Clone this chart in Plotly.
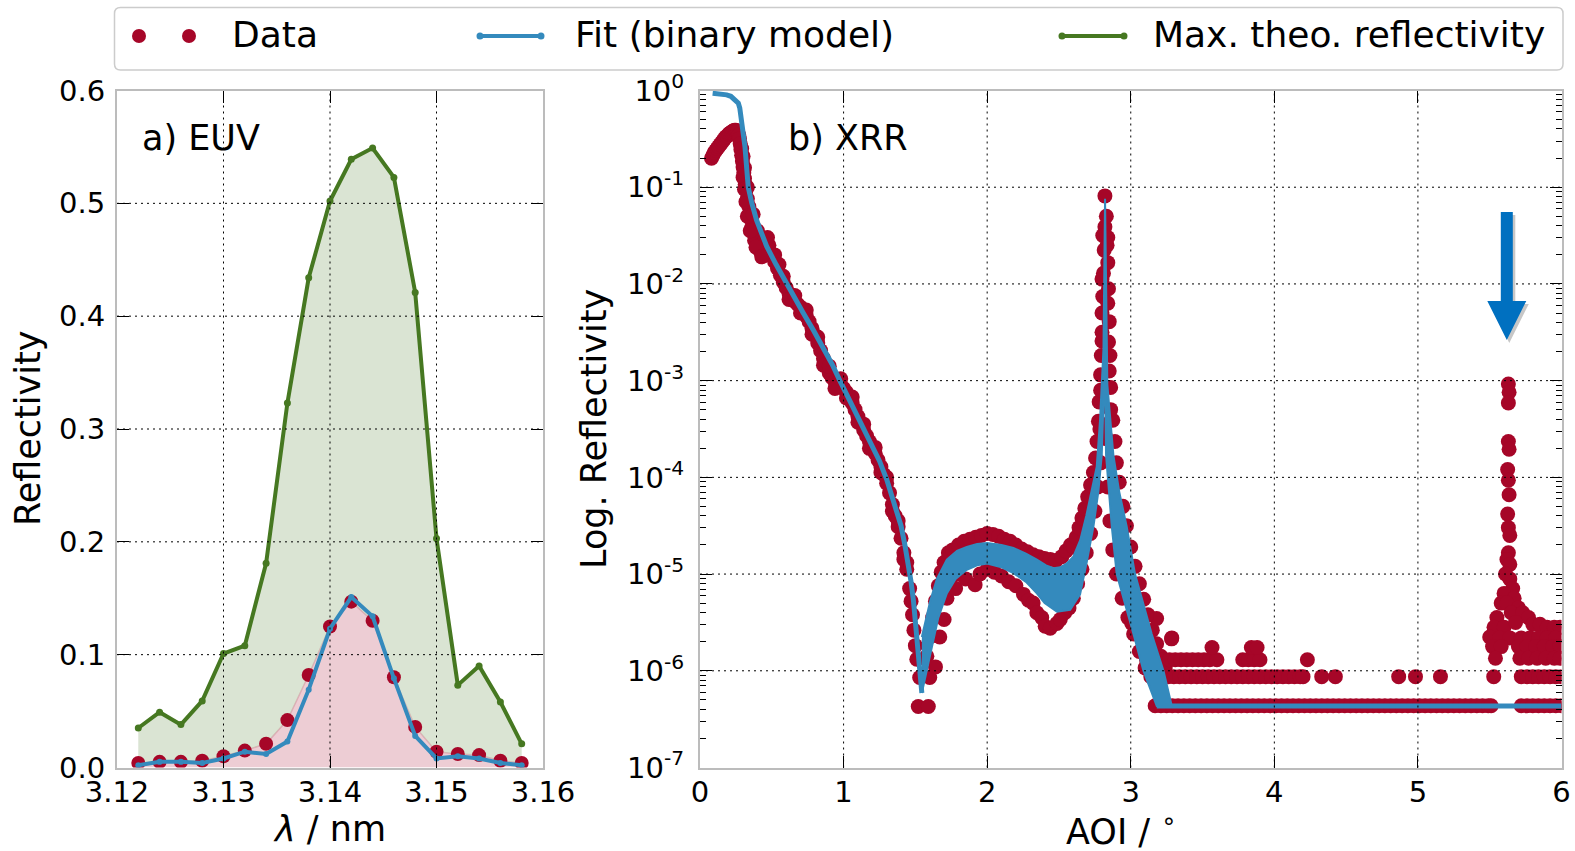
import plotly.graph_objects as go

W, H = 1575, 851
RED, BLUE, GREEN, ARROW = "#A60628", "#348ABD", "#467821", "#0070C0"
FONT = "DejaVu Sans"

# ---------------- panel a) EUV ----------------
wavelength_nm = [3.122, 3.124, 3.126, 3.128, 3.130, 3.132, 3.134, 3.136, 3.138, 3.140,
                 3.142, 3.144, 3.146, 3.148, 3.150, 3.152, 3.154, 3.156, 3.158]
euv_max_theo = [0.035, 0.049, 0.038, 0.059, 0.101, 0.108, 0.181, 0.323, 0.434, 0.502,
                0.539, 0.549, 0.523, 0.421, 0.203, 0.073, 0.090, 0.058, 0.021]
euv_data = [0.004, 0.005, 0.005, 0.006, 0.010, 0.015, 0.021, 0.042, 0.082, 0.125,
            0.147, 0.130, 0.080, 0.036, 0.014, 0.012, 0.011, 0.006, 0.004]
euv_fit = [0.002, 0.005, 0.005, 0.004, 0.008, 0.014, 0.012, 0.023, 0.069, 0.123,
           0.151, 0.134, 0.079, 0.028, 0.008, 0.010, 0.008, 0.004, 0.002]
euv_xticks = [3.12, 3.13, 3.14, 3.15, 3.16]
euv_yticks = [0.0, 0.1, 0.2, 0.3, 0.4, 0.5, 0.6]

# ---------------- panel b) XRR (values read as decade exponents of the log axis) ----------------
xrr_desc_x = [0.08, 0.09, 0.10, 0.11, 0.12, 0.13, 0.14, 0.15, 0.16, 0.17, 0.18, 0.19, 0.20, 0.21,
              0.22, 0.23, 0.24, 0.25, 0.26, 0.27, 0.275, 0.28, 0.285, 0.29, 0.295, 0.30, 0.305,
              0.31, 0.315, 0.32, 0.33, 0.34, 0.35, 0.36, 0.37, 0.38, 0.39, 0.40, 0.42, 0.44, 0.46,
              0.48, 0.50, 0.52, 0.54, 0.56, 0.58, 0.60, 0.62, 0.64, 0.66, 0.68, 0.70, 0.72, 0.74,
              0.76, 0.78, 0.80, 0.82, 0.84, 0.86, 0.88, 0.90, 0.92, 0.94, 0.96, 0.98, 1.00, 1.02,
              1.04, 1.06, 1.08, 1.10, 1.12, 1.14, 1.16, 1.18, 1.20, 1.22, 1.24, 1.26, 1.28, 1.30,
              1.32, 1.34, 1.36, 1.38, 1.40, 1.42, 1.44, 1.46, 1.47, 1.48, 1.49, 1.50, 1.51]
xrr_desc_exp = [-0.70, -0.67, -0.64, -0.62, -0.60, -0.58, -0.56, -0.54, -0.52, -0.50, -0.48, -0.47,
                -0.45, -0.44, -0.43, -0.42, -0.41, -0.41, -0.42, -0.46, -0.50, -0.55, -0.61, -0.67,
                -0.73, -0.79, -0.85, -0.91, -0.97, -1.03, -1.12, -1.20, -1.27, -1.34, -1.40, -1.45,
                -1.50, -1.54, -1.59, -1.62, -1.64, -1.67, -1.71, -1.77, -1.84, -1.91, -1.98, -2.04,
                -2.10, -2.14, -2.18, -2.21, -2.24, -2.28, -2.33, -2.39, -2.46, -2.53, -2.61, -2.69,
                -2.77, -2.85, -2.92, -2.97, -3.01, -3.03, -3.05, -3.08, -3.12, -3.17, -3.23, -3.30,
                -3.37, -3.44, -3.51, -3.57, -3.63, -3.69, -3.75, -3.82, -3.89, -3.97, -4.06, -4.16,
                -4.28, -4.40, -4.51, -4.63, -4.78, -4.95, -5.15, -5.28, -5.42, -5.58, -5.74, -5.88]
# scattered points on either side of the descending fringes
xrr_spread_x = [0.29, 0.30, 0.31, 0.32, 0.33, 0.34, 0.36, 0.38, 0.40, 0.42, 0.45, 0.48, 0.52, 0.55,
                0.58, 0.62, 0.66, 0.70, 0.74, 0.78, 0.82, 0.86, 0.90, 0.94, 0.98, 1.02, 1.06, 1.10,
                1.14, 1.18, 1.22, 1.26, 1.30, 1.34, 1.38, 1.42, 1.44,
                0.30, 0.31, 0.33, 0.35, 0.37, 0.39, 0.43, 0.47]
xrr_spread_exp = [-0.60, -0.90, -0.80, -1.15, -1.00, -1.30, -1.42, -1.55, -1.45, -1.66, -1.55, -1.60,
                  -1.70, -1.80, -1.92, -2.16, -2.12, -2.30, -2.27, -2.52, -2.55, -2.84, -2.85, -3.08,
                  -2.98, -3.18, -3.17, -3.43, -3.45, -3.70, -3.69, -3.95, -4.00, -4.35, -4.45, -4.85,
                  -4.88,
                  -0.68, -1.02, -1.30, -1.45, -1.28, -1.62, -1.72, -1.52]

xrr_hump_x = [1.52, 1.53, 1.59, 1.60, 1.58, 1.60, 1.62, 1.64, 1.66, 1.68, 1.70, 1.73, 1.64, 1.67,
              1.70, 1.72, 1.75, 1.78, 1.76, 1.80, 1.84, 1.88, 1.92, 1.96, 2.00, 2.04, 2.08, 2.12,
              2.16, 2.20, 2.24, 2.28, 2.32, 2.36, 2.40, 2.44, 2.48, 2.52, 2.55, 2.58, 1.80, 1.85,
              1.916, 1.95, 2.00, 2.05, 2.10, 2.15, 2.20, 2.253, 2.288, 2.32, 2.346, 2.38, 2.404,
              2.439, 2.486, 2.509, 2.54, 2.57, 2.60]
xrr_hump_exp = [-6.37, -6.07, -6.37, -6.07, -5.85, -5.65, -5.45, -5.28, -5.12, -4.98, -4.88, -4.78,
                -5.96, -5.65, -5.47, -5.25, -5.12, -5.15, -4.75, -4.70, -4.66, -4.64, -4.62, -4.60,
                -4.58, -4.59, -4.61, -4.64, -4.66, -4.70, -4.74, -4.77, -4.80, -4.82, -4.84, -4.85,
                -4.86, -4.82, -4.76, -4.70, -5.00, -5.05, -5.11, -5.00, -4.95, -4.98, -5.02, -5.08,
                -5.12, -5.21, -5.27, -5.30, -5.40, -5.45, -5.54, -5.56, -5.51, -5.47, -5.40, -5.35,
                -5.25]

xrr_peak_x = [2.60, 2.62, 2.64, 2.66, 2.68, 2.70, 2.72, 2.74, 2.755, 2.765, 2.775, 2.78, 2.79, 2.795,
              2.80, 2.80, 2.805, 2.81, 2.815, 2.82, 2.82,
              2.63, 2.66, 2.69, 2.72, 2.75, 2.77, 2.79,
              2.83, 2.84, 2.84, 2.845, 2.85, 2.855, 2.86, 2.875, 2.89, 2.90, 2.92, 2.945, 2.97,
              3.00, 3.03, 3.06, 3.09, 3.12, 3.15, 3.18, 3.21, 3.24,
              2.83, 2.84, 2.855, 2.875, 2.90, 2.94, 2.98, 3.02, 3.06, 3.10,
              3.007, 3.18, 3.286, 3.109, 3.284,
              2.805, 2.835, 2.80, 2.84, 2.80, 2.845, 2.79, 2.85, 2.785, 2.86]
xrr_peak_exp = [-4.72, -4.62, -4.52, -4.42, -4.32, -4.20, -4.08, -3.95, -3.80, -3.63, -3.42, -3.22,
                -2.94, -2.74, -2.59, -2.30, -2.13, -1.89, -1.65, -1.41, -1.09,
                -5.10, -4.95, -4.78, -4.58, -4.35, -4.10, -3.85,
                -1.30, -1.52, -1.78, -2.05, -2.39, -2.74, -3.07, -3.41, -3.63, -3.85, -4.05, -4.30,
                -4.50, -4.72, -4.92, -5.10, -5.26, -5.42, -5.58, -5.72, -5.85, -5.97,
                -3.60, -4.10, -4.45, -4.75, -5.00, -5.25, -5.45, -5.62, -5.80, -5.97,
                -5.51, -5.46, -5.66, -5.43, -5.67,
                -1.50, -1.60, -1.95, -2.20, -2.50, -2.60, -3.10, -2.90, -3.50, -3.30]

xrr_peak2_x = [5.63, 5.635, 5.63, 5.63, 5.635, 5.625, 5.63, 5.635, 5.625, 5.63, 5.64, 5.63, 5.62,
               5.64, 5.61, 5.64, 5.66, 5.60, 5.67, 5.58, 5.62, 5.70, 5.55, 5.65, 5.73, 5.77, 5.53,
               5.60, 5.68, 5.80, 5.85, 5.90, 5.95, 5.99, 5.50, 5.57, 5.64, 5.72, 5.78, 5.84, 5.90,
               5.96, 5.52, 5.58, 5.70, 5.76, 5.82, 5.88, 5.94, 5.99, 5.54, 5.71, 5.77, 5.83, 5.89,
               5.95, 5.99]
xrr_peak2_exp = [-3.035, -3.12, -3.23, -3.63, -3.71, -3.92, -4.03, -4.18, -4.38, -4.52, -4.60, -4.78,
                 -4.85, -4.90, -5.00, -5.05, -5.15, -5.20, -5.25, -5.30, -5.30, -5.35, -5.45, -5.40,
                 -5.40, -5.45, -5.55, -5.55, -5.50, -5.52, -5.52, -5.55, -5.55, -5.55, -5.65, -5.66,
                 -5.66, -5.66, -5.66, -5.66, -5.66, -5.66, -5.75, -5.75, -5.75, -5.75, -5.75, -5.75,
                 -5.75, -5.75, -5.87, -5.87, -5.87, -5.87, -5.87, -5.87, -5.87]

# detector floor: quantised count levels (1, 2, 3, 4 counts)
floor_levels = [4.35e-7, 8.7e-7, 1.3e-6, 1.74e-6]
floor_row1_x = [3.17, 3.21, 3.25, 3.29, 3.33, 3.37, 3.41, 3.45, 3.49, 3.53, 3.57, 3.61, 3.65, 3.69,
                3.73, 3.77, 3.81, 3.85, 3.89, 3.93, 3.97, 4.01, 4.05, 4.09, 4.13, 4.17, 4.21, 4.25,
                4.29, 4.33, 4.37, 4.41, 4.45, 4.49, 4.53, 4.57, 4.61, 4.65, 4.69, 4.73, 4.77, 4.81,
                4.85, 4.89, 4.93, 4.97, 5.01, 5.05, 5.09, 5.13, 5.17, 5.21, 5.25, 5.29, 5.33, 5.37,
                5.41, 5.45, 5.49, 5.51, 5.72, 5.76, 5.80, 5.84, 5.88, 5.92, 5.96, 6.00]
floor_row2_x = [3.14, 3.18, 3.22, 3.26, 3.30, 3.34, 3.38, 3.42, 3.46, 3.50, 3.54, 3.58, 3.62, 3.66,
                3.70, 3.74, 3.78, 3.82, 3.86, 3.90, 3.94, 3.98, 4.02, 4.06, 4.10, 4.14, 4.18, 4.20,
                4.33, 4.425, 4.866, 4.983, 5.157, 5.528, 5.72, 5.76, 5.80, 5.84, 5.88, 5.92, 5.96,
                6.00]
floor_row3_x = [3.11, 3.15, 3.19, 3.23, 3.27, 3.31, 3.35, 3.39, 3.43, 3.47, 3.51, 3.55, 3.60, 3.78,
                3.82, 3.86, 3.90, 4.23]
floor_row4_x = [3.566, 3.84, 3.88]

fit_main_x = [0.088, 0.14, 0.186, 0.215, 0.232, 0.252, 0.267, 0.277, 0.283, 0.290, 0.297, 0.305,
              0.313, 0.325, 0.336, 0.36, 0.394, 0.43, 0.464, 0.53, 0.603, 0.66, 0.719, 0.79, 0.858,
              0.92, 0.974, 1.03, 1.09, 1.15, 1.206, 1.25, 1.30, 1.34, 1.38, 1.40, 1.427, 1.45, 1.47,
              1.487, 1.51, 1.53, 1.545]
fit_main_exp = [-0.028, -0.035, -0.045, -0.06, -0.079, -0.10, -0.131, -0.18, -0.234, -0.32, -0.41,
                -0.50, -0.58, -0.80, -1.00, -1.16, -1.34, -1.48, -1.61, -1.80, -2.00, -2.15, -2.30,
                -2.48, -2.65, -2.83, -3.00, -3.17, -3.34, -3.51, -3.68, -3.83, -4.02, -4.20, -4.38,
                -4.50, -4.70, -4.88, -5.08, -5.28, -5.62, -5.95, -6.23]
fit_floor_x = [3.181, 6.0]
fit_floor_exp = [-6.363, -6.363]
# envelope of the rapidly oscillating fit (upper edge, then lower edge)
fit_band_up_x = [1.545, 1.575, 1.603, 1.65, 1.719, 1.79, 1.858, 1.93, 2.0, 2.10, 2.183, 2.27, 2.346,
                 2.41, 2.462, 2.51, 2.555, 2.60, 2.648, 2.69, 2.717, 2.745, 2.763, 2.786, 2.81, 2.821,
                 2.826, 2.832, 2.837, 2.879, 2.92, 2.972, 3.03, 3.09, 3.146, 3.228, 3.286]
fit_band_up_exp = [-5.65, -5.45, -5.28, -5.05, -4.85, -4.76, -4.72, -4.69, -4.68, -4.70, -4.73, -4.79,
                   -4.85, -4.91, -4.94, -4.93, -4.89, -4.82, -4.65, -4.40, -4.22, -4.03, -3.89, -3.41,
                   -2.67, -1.12, -1.60, -2.30, -3.04, -3.77, -4.15, -4.51, -5.00, -5.32, -5.62, -6.00,
                   -6.363]
fit_band_lo_x = [1.545, 1.57, 1.603, 1.66, 1.719, 1.78, 1.858, 1.93, 2.0, 2.10, 2.183, 2.27, 2.346,
                 2.40, 2.486, 2.578, 2.647, 2.693, 2.74, 2.775, 2.798, 2.814, 2.817, 2.821, 2.828,
                 2.868, 2.902, 2.96, 3.019, 3.088, 3.181]
fit_band_lo_exp = [-6.23, -6.05, -5.82, -5.45, -5.20, -5.05, -4.955, -4.91, -4.89, -4.93, -4.99, -5.08,
                   -5.20, -5.30, -5.39, -5.37, -5.21, -4.88, -4.51, -4.14, -3.77, -3.04, -2.90, -3.04,
                   -3.77, -4.51, -5.00, -5.30, -5.62, -6.00, -6.363]

xrr_xticks = [0, 1, 2, 3, 4, 5, 6]
xrr_decades = [-7, -6, -5, -4, -3, -2, -1, 0]


def dec(v):
    return [10 ** e for e in v]


# ---------------- layout geometry (pixels) ----------------
L_X0, L_X1 = 117.0, 543.0
R_X0, R_X1 = 700.0, 1561.5
Y_TOP, Y_BOT = 90.5, 767.5


def fx(px):
    return px / W


def fy(py):
    return 1 - py / H


fig = go.Figure()

# --- panel a traces ---
fig.add_trace(go.Scatter(x=wavelength_nm, y=euv_data, mode="lines", xaxis="x", yaxis="y",
                         line=dict(color="rgba(166,6,40,0.18)", width=1.5),
                         fill="tozeroy", fillcolor="rgba(166,6,40,0.2)", hoverinfo="skip"))
fig.add_trace(go.Scatter(x=wavelength_nm, y=euv_max_theo, mode="lines+markers", xaxis="x", yaxis="y",
                         line=dict(color=GREEN, width=4), marker=dict(color=GREEN, size=7),
                         fill="tonexty", fillcolor="rgba(70,120,33,0.2)",
                         name="Max. theo. reflectivity"))
fig.add_trace(go.Scatter(x=wavelength_nm, y=euv_data, mode="markers", xaxis="x", yaxis="y",
                         marker=dict(color=RED, size=14), name="Data"))
fig.add_trace(go.Scatter(x=wavelength_nm, y=euv_fit, mode="lines+markers", xaxis="x", yaxis="y",
                         line=dict(color=BLUE, width=4), marker=dict(color=BLUE, size=6),
                         name="Fit (binary model)"))

# --- panel b traces ---
data_x = xrr_desc_x + xrr_spread_x + xrr_hump_x + xrr_peak_x + xrr_peak2_x
data_y = (dec(xrr_desc_exp) + dec(xrr_spread_exp) + dec(xrr_hump_exp) + dec(xrr_peak_exp)
          + dec(xrr_peak2_exp))
for lvl, row in zip(floor_levels, [floor_row1_x, floor_row2_x, floor_row3_x, floor_row4_x]):
    data_x += row
    data_y += [lvl] * len(row)
fig.add_trace(go.Scatter(x=data_x, y=data_y, mode="markers", xaxis="x2", yaxis="y2",
                         marker=dict(color=RED, size=15, line=dict(width=0)), name="Data"))

band_x = fit_band_up_x + fit_band_lo_x[::-1]
band_y = dec(fit_band_up_exp) + dec(fit_band_lo_exp[::-1])
fig.add_trace(go.Scatter(x=band_x, y=band_y, mode="lines", xaxis="x2", yaxis="y2", fill="toself",
                         fillcolor=BLUE, line=dict(color=BLUE, width=2), hoverinfo="skip"))
fig.add_trace(go.Scatter(x=fit_main_x + [None] + fit_floor_x,
                         y=dec(fit_main_exp) + [None] + dec(fit_floor_exp),
                         mode="lines", xaxis="x2", yaxis="y2",
                         line=dict(color=BLUE, width=5), name="Fit (binary model)"))

# --- axes ---
common = dict(showgrid=False, zeroline=False, showline=True, linecolor="#BCBCBC", linewidth=2,
              mirror="ticks", ticks="inside", ticklen=12, tickwidth=1, tickcolor="black",
              automargin=False,
              tickfont=dict(family=FONT, size=29, color="black"))
minor_vals = [k * 10 ** e for e in range(-7, 0) for k in range(2, 10)]
fig.update_layout(
    xaxis=dict(domain=[fx(L_X0), fx(L_X1)], range=[3.12, 3.16], anchor="y",
               tickvals=euv_xticks, ticktext=[f"{v:.2f}" for v in euv_xticks],
               ticklabelstandoff=-2, **common),
    yaxis=dict(domain=[fy(Y_BOT), fy(Y_TOP)], range=[0, 0.6], anchor="x",
               tickvals=euv_yticks, ticktext=[f"{v:.1f}" for v in euv_yticks],
               ticklabelstandoff=4, **common),
    xaxis2=dict(domain=[fx(R_X0), fx(R_X1)], range=[0, 6], anchor="y2",
                tickvals=xrr_xticks, ticktext=[str(v) for v in xrr_xticks],
                ticklabelstandoff=-2, **common),
    yaxis2=dict(domain=[fy(Y_BOT), fy(Y_TOP)], type="log", range=[-7, 0], anchor="x2",
                tickvals=[10 ** e for e in xrr_decades],
                ticktext=[f"10<sup>{e}</sup>" for e in xrr_decades],
                ticklabelstandoff=8,
                minor=dict(tickvals=minor_vals, ticks="inside", ticklen=6, tickwidth=1,
                           tickcolor="black", showgrid=False),
                **common),
)

# --- gridlines above traces (dotted) ---
shapes = []
grid_line = dict(color="black", width=1, dash="2px,4px")
for v in euv_xticks[1:-1]:
    shapes.append(dict(type="line", xref="x", yref="y domain", x0=v, x1=v, y0=0, y1=1,
                       line=grid_line, layer="above"))
for v in euv_yticks[1:-1]:
    shapes.append(dict(type="line", xref="x domain", yref="y", x0=0, x1=1, y0=v, y1=v,
                       line=grid_line, layer="above"))
for v in xrr_xticks[1:-1]:
    shapes.append(dict(type="line", xref="x2", yref="y2 domain", x0=v, x1=v, y0=0, y1=1,
                       line=grid_line, layer="above"))
for e in xrr_decades[1:-1]:
    f = (e + 7) / 7
    shapes.append(dict(type="line", xref="x2 domain", yref="y2 domain", x0=0, x1=1, y0=f, y1=f,
                       line=grid_line, layer="above"))

# --- arrow marking the extra peak ---
def arrow_path(dx, dy):
    pts = [(1500.8, 212), (1512.8, 212), (1512.8, 301), (1526.3, 301), (1506.8, 340),
           (1487.3, 301), (1500.8, 301)]
    return "M " + " L ".join(f"{fx(x + dx):.5f},{fy(y + dy):.5f}" for x, y in pts) + " Z"


shapes.append(dict(type="path", xref="paper", yref="paper", path=arrow_path(2.5, 3),
                   fillcolor="rgba(0,0,0,0.22)", line=dict(width=0), layer="above"))
shapes.append(dict(type="path", xref="paper", yref="paper", path=arrow_path(0, 0),
                   fillcolor=ARROW, line=dict(width=0), layer="above"))

# --- legend (manual, matplotlib style) ---
LG_X0, LG_X1, LG_Y0, LG_Y1, R = 114.5, 1563.0, 7.5, 70.0, 6.0
p = (f"M {fx(LG_X0 + R)},{fy(LG_Y0)} L {fx(LG_X1 - R)},{fy(LG_Y0)} "
     f"Q {fx(LG_X1)},{fy(LG_Y0)} {fx(LG_X1)},{fy(LG_Y0 + R)} L {fx(LG_X1)},{fy(LG_Y1 - R)} "
     f"Q {fx(LG_X1)},{fy(LG_Y1)} {fx(LG_X1 - R)},{fy(LG_Y1)} L {fx(LG_X0 + R)},{fy(LG_Y1)} "
     f"Q {fx(LG_X0)},{fy(LG_Y1)} {fx(LG_X0)},{fy(LG_Y1 - R)} L {fx(LG_X0)},{fy(LG_Y0 + R)} "
     f"Q {fx(LG_X0)},{fy(LG_Y0)} {fx(LG_X0 + R)},{fy(LG_Y0)} Z")
shapes.append(dict(type="path", xref="paper", yref="paper", path=p, fillcolor="white",
                   line=dict(color="#CCCCCC", width=1.5)))
LEG_Y = 36.0


def dot(px, d, color):
    return dict(type="circle", xref="paper", yref="paper", xsizemode="pixel", ysizemode="pixel",
                xanchor=fx(px), yanchor=fy(LEG_Y), x0=-d / 2, x1=d / 2, y0=-d / 2, y1=d / 2,
                fillcolor=color, line=dict(width=0))


shapes += [dot(139, 14, RED), dot(189, 14, RED)]
for (a, b, c) in [(480, 541, BLUE), (1062, 1124, GREEN)]:
    shapes.append(dict(type="line", xref="paper", yref="paper", x0=fx(a), x1=fx(b),
                       y0=fy(LEG_Y), y1=fy(LEG_Y), line=dict(color=c, width=4)))
    shapes += [dot(a, 7, c), dot(b, 7, c)]

ann = []
for txt, px in [("Data", 229.5), ("Fit (binary model)", 573), ("Max. theo. reflectivity", 1151)]:
    ann.append(dict(text=txt, x=fx(px), y=fy(LEG_Y - 1), xref="paper", yref="paper",
                    xanchor="left", yanchor="middle", showarrow=False,
                    font=dict(family=FONT, size=36, color="black")))

# panel labels and axis titles
ann += [
    dict(text="a) EUV", x=fx(140), y=fy(138), xanchor="left", yanchor="middle",
         font=dict(family=FONT, size=35, color="black")),
    dict(text="b) XRR", x=fx(786), y=fy(138), xanchor="left", yanchor="middle",
         font=dict(family=FONT, size=35, color="black")),
    dict(text="Reflectivity", x=fx(28), y=fy(429), textangle=-90, xanchor="center",
         yanchor="middle", font=dict(family=FONT, size=35, color="black")),
    dict(text="Log. Reflectivity", x=fx(594), y=fy(429), textangle=-90, xanchor="center",
         yanchor="middle", font=dict(family=FONT, size=35, color="black")),
    dict(text="<i>λ</i> / nm", x=fx(329), y=fy(829), xanchor="center", yanchor="middle",
         font=dict(family=FONT, size=35, color="black")),
    dict(text="AOI / <sup>∘</sup>", x=fx(1064), y=fy(829), xanchor="left", yanchor="middle",
         font=dict(family=FONT, size=35, color="black")),
]
for a in ann:
    a.setdefault("xref", "paper")
    a.setdefault("yref", "paper")
    a.setdefault("showarrow", False)

fig.update_layout(width=W, height=H, autosize=False, margin=dict(l=0, r=0, t=0, b=0, pad=0),
                  paper_bgcolor="white", plot_bgcolor="white", showlegend=False,
                  font=dict(family=FONT, color="black"), shapes=shapes, annotations=ann)

fig.write_html("out.html")
